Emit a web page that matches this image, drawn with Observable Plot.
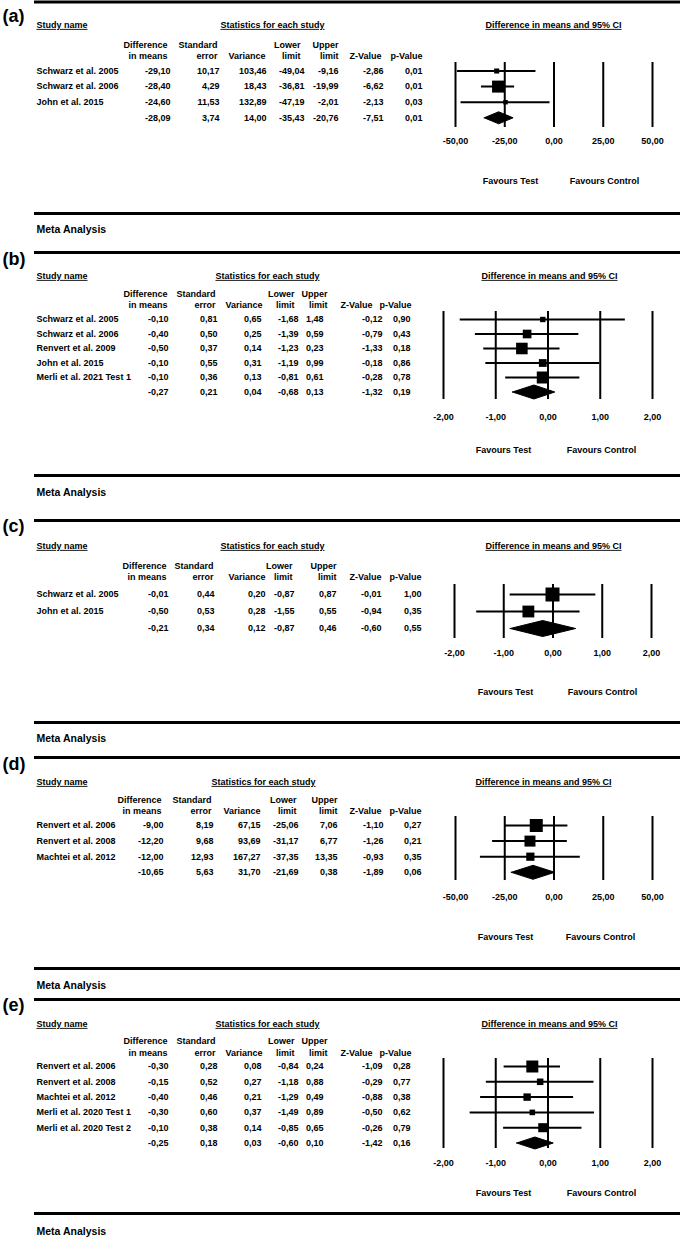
<!DOCTYPE html>
<html>
<head>
<meta charset="utf-8">
<script src="https://cdn.jsdelivr.net/npm/d3@7"></script>
<script src="https://cdn.jsdelivr.net/npm/@observablehq/plot@0.6"></script>
<style>
  body { margin: 0; background: #fff; }
  #chart { width: 680px; }
  #chart svg { display: block; }
</style>
</head>
<body>
<div id="chart"></div>
<script>
// ---------- data ----------
const columnHeaders = [["Difference", "in means"], ["Standard", "error"], ["", "Variance"], ["Lower", "limit"], ["Upper", "limit"], ["", "Z-Value"], ["", "p-Value"]];
const ticksWide = [-50, -25, 0, 25, 50];
const ticksNarrow = [-2, -1, 0, 1, 2];

// (a)
const studyA = ["Schwarz et al. 2005", "Schwarz et al. 2006", "John et al. 2015"];
const diffA = [-29.10, -28.40, -24.60];
const seA = [10.17, 4.29, 11.53];
const varA = [103.46, 18.43, 132.89];
const lowA = [-49.04, -36.81, -47.19];
const upA = [-9.16, -19.99, -2.01];
const zA = [-2.86, -6.62, -2.13];
const pA = [0.01, 0.01, 0.03];
const summaryA = [-28.09, 3.74, 14.00, -35.43, -20.76, -7.51, 0.01];

// (b)
const studyB = ["Schwarz et al. 2005", "Schwarz et al. 2006", "Renvert et al. 2009", "John et al. 2015", "Merli et al. 2021 Test 1"];
const diffB = [-0.10, -0.40, -0.50, -0.10, -0.10];
const seB = [0.81, 0.50, 0.37, 0.55, 0.36];
const varB = [0.65, 0.25, 0.14, 0.31, 0.13];
const lowB = [-1.68, -1.39, -1.23, -1.19, -0.81];
const upB = [1.48, 0.59, 0.23, 0.99, 0.61];
const zB = [-0.12, -0.79, -1.33, -0.18, -0.28];
const pB = [0.90, 0.43, 0.18, 0.86, 0.78];
const summaryB = [-0.27, 0.21, 0.04, -0.68, 0.13, -1.32, 0.19];

// (c)
const studyC = ["Schwarz et al. 2005", "John et al. 2015"];
const diffC = [-0.01, -0.50];
const seC = [0.44, 0.53];
const varC = [0.20, 0.28];
const lowC = [-0.87, -1.55];
const upC = [0.87, 0.55];
const zC = [-0.01, -0.94];
const pC = [1.00, 0.35];
const summaryC = [-0.21, 0.34, 0.12, -0.87, 0.46, -0.60, 0.55];

// (d)
const studyD = ["Renvert et al. 2006", "Renvert et al. 2008", "Machtei et al. 2012"];
const diffD = [-9.00, -12.20, -12.00];
const seD = [8.19, 9.68, 12.93];
const varD = [67.15, 93.69, 167.27];
const lowD = [-25.06, -31.17, -37.35];
const upD = [7.06, 6.77, 13.35];
const zD = [-1.10, -1.26, -0.93];
const pD = [0.27, 0.21, 0.35];
const summaryD = [-10.65, 5.63, 31.70, -21.69, 0.38, -1.89, 0.06];

// (e)
const studyE = ["Renvert et al. 2006", "Renvert et al. 2008", "Machtei et al. 2012", "Merli et al. 2020 Test 1", "Merli et al. 2020 Test 2"];
const diffE = [-0.30, -0.15, -0.40, -0.30, -0.10];
const seE = [0.28, 0.52, 0.46, 0.60, 0.38];
const varE = [0.08, 0.27, 0.21, 0.37, 0.14];
const lowE = [-0.84, -1.18, -1.29, -1.49, -0.85];
const upE = [0.24, 0.88, 0.49, 0.89, 0.65];
const zE = [-1.09, -0.29, -0.88, -0.50, -0.26];
const pE = [0.28, 0.77, 0.38, 0.62, 0.79];
const summaryE = [-0.25, 0.18, 0.03, -0.60, 0.10, -1.42, 0.16];

const underlined = ["Study name", "Statistics for each study", "Difference in means and 95% CI"];

// ---------- layout (pixel positions, absolute page y) ----------
const layoutA = {top: 0, bottom: 240, line1: 1.5, label: 9, study: 21, h1: 41, h2: 52, row0: 70.5, sp: 15.6, vTop: 62, vBot: 127, ticks: 137, fav: 177, line2: 213, meta: 225,
  xr: [455, 652], cols: [170, 219, 266, 304, 338, 383, 422], hcols: [167, 217, 265, 300, 338, 381, 422], stats: 272, ci: 553, favT: 510, favC: 604, sq: 12, dia: 6};
const layoutB = {top: 240, bottom: 500, line1: 252, label: 252, study: 272, h1: 290, h2: 301, row0: 319, sp: 14.5, vTop: 311, vBot: 399, ticks: 413, fav: 446, line2: 475, meta: 488,
  xr: [443, 652], cols: [168, 217, 261, 298, 323, 382, 410], hcols: [167, 215, 262, 294, 327, 372, 411], stats: 267, ci: 549, favT: 503, favC: 601, sq: 12, dia: 7};
const layoutC = {top: 500, bottom: 745, line1: 520, label: 519, study: 542, h1: 562, h2: 573, row0: 594, sp: 17, vTop: 584, vBot: 638, ticks: 649, fav: 688, line2: 722, meta: 734,
  xr: [454, 651], cols: [168, 214, 265, 294, 336, 381, 421], hcols: [166, 213, 265, 292, 336, 381, 421], stats: 272, ci: 553, favT: 505, favC: 602, sq: 14, dia: 8};
const layoutD = {top: 745, bottom: 990, line1: 757, label: 757, study: 778, h1: 796, h2: 807, row0: 825, sp: 15.6, vTop: 816, vBot: 880, ticks: 893, fav: 933, line2: 968, meta: 981,
  xr: [455, 652], cols: [163, 213, 260, 298, 337, 383, 421], hcols: [161, 211, 260, 296, 337, 381, 421], stats: 263, ci: 543, favT: 505, favC: 600, sq: 13, dia: 7};
const layoutE = {top: 990, bottom: 1240, line1: 999, label: 998, study: 1020, h1: 1037, h2: 1049, row0: 1066, sp: 15.3, vTop: 1058, vBot: 1148, ticks: 1159, fav: 1189, line2: 1213, meta: 1227,
  xr: [443, 652], cols: [168, 217, 261, 298, 323, 382, 410], hcols: [167, 215, 262, 294, 327, 372, 411], stats: 267, ci: 549, favT: 503, favC: 601, sq: 12, dia: 6};

const panels = [
  {key: "(a)", studies: studyA, cols: [diffA, seA, varA, lowA, upA, zA, pA], summary: summaryA, ticks: ticksWide, L: layoutA},
  {key: "(b)", studies: studyB, cols: [diffB, seB, varB, lowB, upB, zB, pB], summary: summaryB, ticks: ticksNarrow, L: layoutB},
  {key: "(c)", studies: studyC, cols: [diffC, seC, varC, lowC, upC, zC, pC], summary: summaryC, ticks: ticksNarrow, L: layoutC},
  {key: "(d)", studies: studyD, cols: [diffD, seD, varD, lowD, upD, zD, pD], summary: summaryD, ticks: ticksWide, L: layoutD},
  {key: "(e)", studies: studyE, cols: [diffE, seE, varE, lowE, upE, zE, pE], summary: summaryE, ticks: ticksNarrow, L: layoutE}
];

const fmt = v => (v < 0 ? "-" : "") + Math.abs(v).toFixed(2).replace(".", ",");
const FONT = "'Liberation Sans', Arial, Helvetica, sans-serif";

function forest(P) {
  const L = P.L;
  const n = P.studies.length;
  const ML = 35;
  const rows = P.studies.map((name, i) => ({i, name, v: P.cols.map(c => c[i])}));
  const all = rows.concat([{i: n, name: "", v: P.summary}]);
  const maxW = d3.max(rows, d => 1 / d.v[2]);
  const H = L.bottom - L.top;
  const base = {fontSize: 9, fontWeight: "bold", fontFamily: FONT};
  const at = (text, x, y, o = {}) => Plot.text([text], {text: d => d, frameAnchor: "top-left", dx: x - ML, dy: y - L.line1, ...base, ...o});
  const marks = [
    Plot.frame({anchor: "top", strokeWidth: 3}),
    Plot.frame({anchor: "bottom", strokeWidth: 3}),
    at(P.key, 2, L.label, {fontSize: 18, textAnchor: "start"}),
    at(underlined[0], 36, L.study, {textAnchor: "start"}),
    at(underlined[1], L.stats, L.study, {textAnchor: "middle"}),
    at(underlined[2], L.ci, L.study, {textAnchor: "middle"})
  ];
  columnHeaders.forEach(([l1, l2], c) => {
    if (l1) marks.push(at(l1, L.hcols[c], L.h1, {textAnchor: "end"}));
    marks.push(at(l2, L.hcols[c], L.h2, {textAnchor: "end"}));
  });
  marks.push(Plot.text(rows, {y: "i", text: "name", frameAnchor: "left", dx: 36 - ML, textAnchor: "start", ...base}));
  P.cols.forEach((_, c) => {
    marks.push(Plot.text(all, {y: "i", text: d => fmt(d.v[c]), frameAnchor: "left", dx: L.cols[c] - ML, textAnchor: "end", ...base}));
  });
  marks.push(Plot.ruleX(P.ticks, {x: d => d, insetTop: L.vTop - L.line1, insetBottom: L.line2 - L.vBot, strokeWidth: 2, stroke: "black"}));
  marks.push(Plot.ruleY(rows, {y: "i", x1: d => d.v[3], x2: d => d.v[4], strokeWidth: 2, stroke: "black"}));
  marks.push(Plot.dot(rows, {x: d => d.v[0], y: "i", r: d => 1 / d.v[2], symbol: "square", fill: "black"}));
  const h = L.dia / L.sp;
  const s = P.summary;
  const diamond = [{x: s[3], y: n}, {x: s[0], y: n - h}, {x: s[4], y: n}, {x: s[0], y: n + h}, {x: s[3], y: n}];
  marks.push(Plot.line(diamond, {x: "x", y: "y", fill: "black", stroke: "black", strokeWidth: 1, curve: "linear"}));
  marks.push(Plot.text(P.ticks, {x: d => d, text: d => fmt(d), frameAnchor: "top", dy: L.ticks - L.line1, textAnchor: "middle", ...base}));
  marks.push(at("Favours Test", L.favT, L.fav, {textAnchor: "middle"}));
  marks.push(at("Favours Control", L.favC, L.fav, {textAnchor: "middle"}));
  marks.push(at("Meta Analysis", 36, L.meta, {fontSize: 10.5, textAnchor: "start"}));

  const svg = Plot.plot({
    width: 680,
    height: H,
    marginTop: L.line1 - L.top,
    marginBottom: L.bottom - L.line2,
    marginLeft: ML,
    marginRight: 0,
    x: {domain: [P.ticks[0], P.ticks[P.ticks.length - 1]], range: L.xr, axis: null},
    y: {domain: [0, 1], range: [L.row0 - L.top, L.row0 - L.top + L.sp], axis: null},
    r: {type: "sqrt", domain: [0, maxW], range: [0, L.sq / Math.sqrt(Math.PI)]},
    style: {fontFamily: FONT, background: "white", overflow: "visible", color: "black"},
    marks
  });
  d3.select(svg).selectAll("text")
    .filter(function () { return underlined.includes(this.textContent); })
    .style("text-decoration", "underline");
  return svg;
}

const chart = document.getElementById("chart");
panels.forEach(P => chart.appendChild(forest(P)));
</script>
</body>
</html>
